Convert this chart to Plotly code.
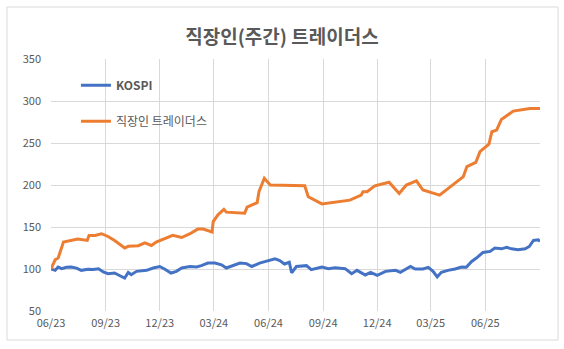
import plotly.graph_objects as go

# ---- data ----
kospi_dates = [
    "2023-06-01", "2023-06-08", "2023-06-13", "2023-06-19", "2023-06-27", "2023-07-05",
    "2023-07-14", "2023-07-22", "2023-08-02", "2023-08-11", "2023-08-20", "2023-08-28",
    "2023-09-05", "2023-09-16", "2023-09-25", "2023-10-03", "2023-10-09", "2023-10-14",
    "2023-10-23", "2023-11-09", "2023-11-20", "2023-12-01", "2023-12-09", "2023-12-20",
    "2023-12-29", "2024-01-07", "2024-01-21", "2024-02-01", "2024-02-09", "2024-02-20",
    "2024-03-03", "2024-03-14", "2024-03-22", "2024-04-02", "2024-04-14", "2024-04-25",
    "2024-05-04", "2024-05-17", "2024-05-29", "2024-06-12", "2024-06-20", "2024-06-28",
    "2024-07-06", "2024-07-10", "2024-07-18", "2024-08-04", "2024-08-12", "2024-08-30",
    "2024-09-10", "2024-09-21", "2024-10-08", "2024-10-19", "2024-10-28", "2024-11-11",
    "2024-11-20", "2024-12-01", "2024-12-15", "2025-01-01", "2025-01-09", "2025-01-26",
    "2025-02-03", "2025-02-16", "2025-02-25", "2025-03-05", "2025-03-12", "2025-03-19",
    "2025-03-30", "2025-04-11", "2025-04-22", "2025-04-30", "2025-05-09", "2025-05-17",
    "2025-05-28", "2025-06-09", "2025-06-17", "2025-06-28", "2025-07-07", "2025-07-15",
    "2025-07-26", "2025-08-07", "2025-08-14", "2025-08-21", "2025-08-29", "2025-09-01",
]
kospi_values = [
    100, 98.4, 102.4, 100.5, 102, 102.4,
    101, 98.4, 99.6, 99.3, 100.2, 96.4,
    94.4, 95.2, 92, 89.3, 96, 93.2,
    97.2, 98.4, 101.2, 103, 100, 95.2,
    97.2, 101.2, 103, 102.4, 104, 107,
    107, 105, 101.2, 104, 107, 106.4,
    103, 107, 109, 112, 110, 106,
    108, 95.5, 103, 104, 99.2, 102.4,
    100.4, 101.5, 100.4, 94.4, 98.4, 92.9,
    96, 92.4, 97.2, 98.4, 96, 103,
    100, 100, 102, 97.2, 90.5, 96,
    98.4, 100, 102.4, 102, 109, 113,
    119.7, 121, 125, 124, 125.7, 124,
    123, 124, 126.8, 134, 134.8, 132.8,
]

trader_dates = [
    "2023-06-01", "2023-06-08", "2023-06-13", "2023-06-22", "2023-07-16", "2023-08-01",
    "2023-08-04", "2023-08-14", "2023-08-25", "2023-09-05", "2023-09-16", "2023-10-03",
    "2023-10-09", "2023-10-26", "2023-11-06", "2023-11-17", "2023-11-25", "2023-12-09",
    "2023-12-23", "2024-01-07", "2024-01-21", "2024-02-03", "2024-02-12", "2024-02-27",
    "2024-02-29", "2024-03-08", "2024-03-18", "2024-03-22", "2024-04-22", "2024-04-26",
    "2024-05-13", "2024-05-16", "2024-05-25", "2024-06-04", "2024-08-01", "2024-08-07",
    "2024-08-30", "2024-10-16", "2024-11-04", "2024-11-07", "2024-11-14", "2024-11-27",
    "2024-12-21", "2025-01-07", "2025-01-19", "2025-02-05", "2025-02-16", "2025-03-16",
    "2025-04-25", "2025-05-01", "2025-05-16", "2025-05-23", "2025-06-07", "2025-06-12",
    "2025-06-20", "2025-06-28", "2025-07-18", "2025-08-15", "2025-09-01",
]
trader_values = [
    100, 111, 113, 132, 135.6, 134,
    140, 140, 142, 138.7, 134, 125,
    127, 127.7, 131, 128, 132, 136,
    140, 137.5, 142, 147.5, 147.5, 144,
    156.5, 164.5, 171, 167.7, 166.5, 173.6,
    179, 192, 208, 200, 199, 186,
    177.5, 182, 188, 192, 192, 199,
    203.3, 190, 200, 205, 194, 188,
    210, 222, 227, 239.7, 248.5, 263.4,
    265.4, 278, 288, 291, 291,
]

title_text = "직장인(주간) 트레이더스"
series_names = ["KOSPI", "직장인 트레이더스"]
x_tick_dates = ["2023-06-01", "2023-09-01", "2023-12-01", "2024-03-01", "2024-06-01",
                "2024-09-01", "2024-12-01", "2025-03-01", "2025-06-01"]
x_tick_labels = ["06/23", "09/23", "12/23", "03/24", "06/24", "09/24", "12/24", "03/25", "06/25"]
y_ticks = [50, 100, 150, 200, 250, 300, 350]

FONT = "Noto Sans CJK KR"
TXT = "#595959"
GRID = "#D9D9D9"

fig = go.Figure()
fig.add_trace(go.Scatter(
    x=kospi_dates, y=kospi_values, mode="lines", name="<b>" + series_names[0] + "</b>",
    line=dict(color="#4472C4", width=3), legendgroup="a",
))
fig.add_trace(go.Scatter(
    x=trader_dates, y=trader_values, mode="lines", name=series_names[1],
    line=dict(color="#ED7D31", width=3), legendgroup="b",
))

fig.update_layout(
    width=564, height=349,
    margin=dict(l=51, r=24, t=59, b=38),
    paper_bgcolor="white", plot_bgcolor="white",
    font=dict(family=FONT, color=TXT, size=11),
    title=dict(text="<b>" + title_text + "</b>", x=0.5, xanchor="center",
               y=1 - 37 / 349, yanchor="middle",
               font=dict(family=FONT, size=19, color=TXT)),
    showlegend=True,
    legend=dict(x=0.051, y=0.953, xanchor="left", yanchor="top",
                bgcolor="rgba(0,0,0,0)", font=dict(family=FONT, size=12, color=TXT),
                tracegroupgap=17, itemwidth=30),
    xaxis=dict(type="date", range=["2023-06-01", "2025-09-01"],
               tickvals=x_tick_dates, ticktext=x_tick_labels,
               showgrid=True, gridcolor=GRID, gridwidth=1,
               showline=False, zeroline=False, ticks="",
               tickfont=dict(family=FONT, size=11, color=TXT),
               ticklabelstandoff=4),
    yaxis=dict(range=[50, 350], tickvals=y_ticks,
               showgrid=True, gridcolor=GRID, gridwidth=1,
               showline=False, zeroline=False, ticks="",
               tickfont=dict(family=FONT, size=11, color=TXT),
               ticklabelstandoff=9),
    shapes=[dict(type="rect", xref="paper", yref="paper",
                 x0=(7 - 51) / 489, x1=(558 - 51) / 489,
                 y0=(311 - 340) / 252, y1=(311 - 7) / 252,
                 line=dict(color=GRID, width=1), fillcolor="rgba(0,0,0,0)", layer="below")],
)

fig.write_html("out.html", config={"displayModeBar": False})
